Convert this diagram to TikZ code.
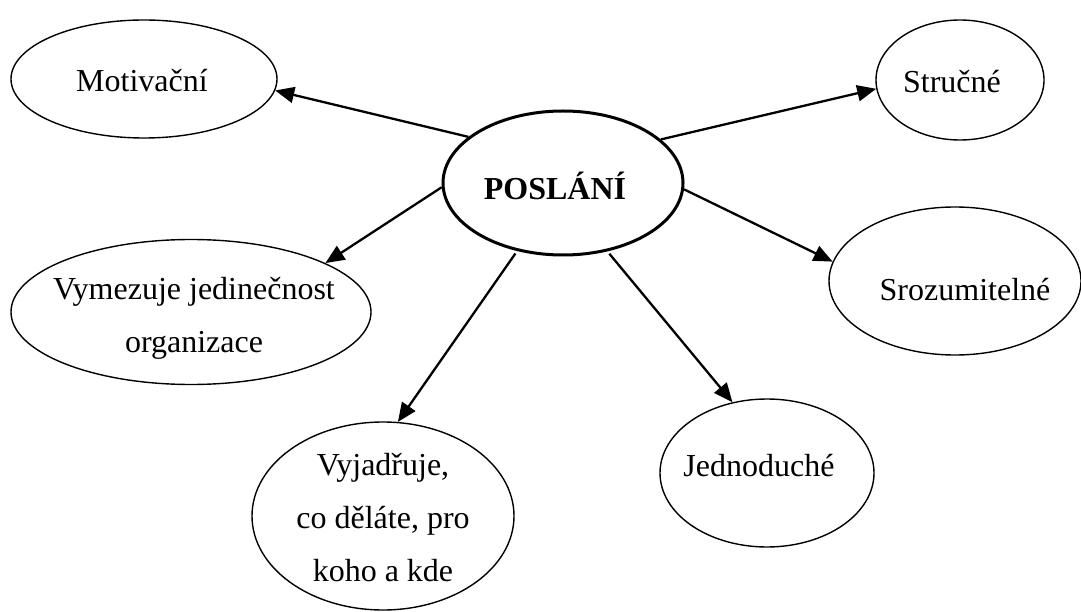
\documentclass[tikz,border=0pt]{standalone}
\usepackage{fontspec}
\setmainfont{Liberation Serif}
\usetikzlibrary{shapes.geometric,arrows.meta}
\begin{document}
\begin{tikzpicture}[x=1pt,y=-1pt,
  ell/.style={draw, ellipse, line width=1.4pt, inner sep=0pt},
  txt/.style={font=\fontsize{32}{53}\selectfont, align=center, inner sep=0pt},
  arr/.style={line width=2.3pt, -{Triangle[length=19pt,width=16pt]}}
]
\useasboundingbox (0,0) rectangle (1081,612);
\node[ell, line width=3pt, minimum width=240pt, minimum height=144pt,
  label={[txt, font=\fontsize{32}{53}\selectfont\bfseries, xshift=-8pt, yshift=-3pt]center:POSLÁNÍ}] (p) at (563,183) {};
\node[ell, minimum width=266pt, minimum height=118pt,
  label={[txt, xshift=-2pt, yshift=-2pt]center:Motivační}] (m) at (144,79) {};
\node[ell, minimum width=168pt, minimum height=120pt,
  label={[txt, xshift=-8pt, yshift=-2pt]center:Stručné}] (s) at (960,80) {};
\node[ell, minimum width=252pt, minimum height=148pt,
  label={[txt, xshift=10pt, yshift=-9pt]center:Srozumitelné}] (sr) at (955,281) {};
\node[ell, minimum width=360pt, minimum height=145pt,
  label={[txt, xshift=3pt, yshift=-6pt]center:Vymezuje jedinečnost\\organizace}] (v) at (191,312) {};
\node[ell, minimum width=262pt, minimum height=188pt,
  label={[txt, yshift=-2pt]center:Vyjadřuje,\\co děláte, pro\\koho a kde}] (vy) at (383,516) {};
\node[ell, minimum width=214pt, minimum height=148pt,
  label={[txt, xshift=-8pt, yshift=7pt]center:Jednoduché}] (j) at (767,473) {};
\draw[arr] (p.154.6) -- (m.355);
\draw[arr] (p.24.6) -- (s.186);
\draw[arr] (p.357) -- (sr.171);
\draw[arr] (p.182) -- (v.20.2);
\draw[arr, shorten <=3pt] (p.236.7) -- (vy.81.5);
\draw[arr, shorten <=3pt] (p.303) -- (j.116.9);
\end{tikzpicture}
\end{document}
